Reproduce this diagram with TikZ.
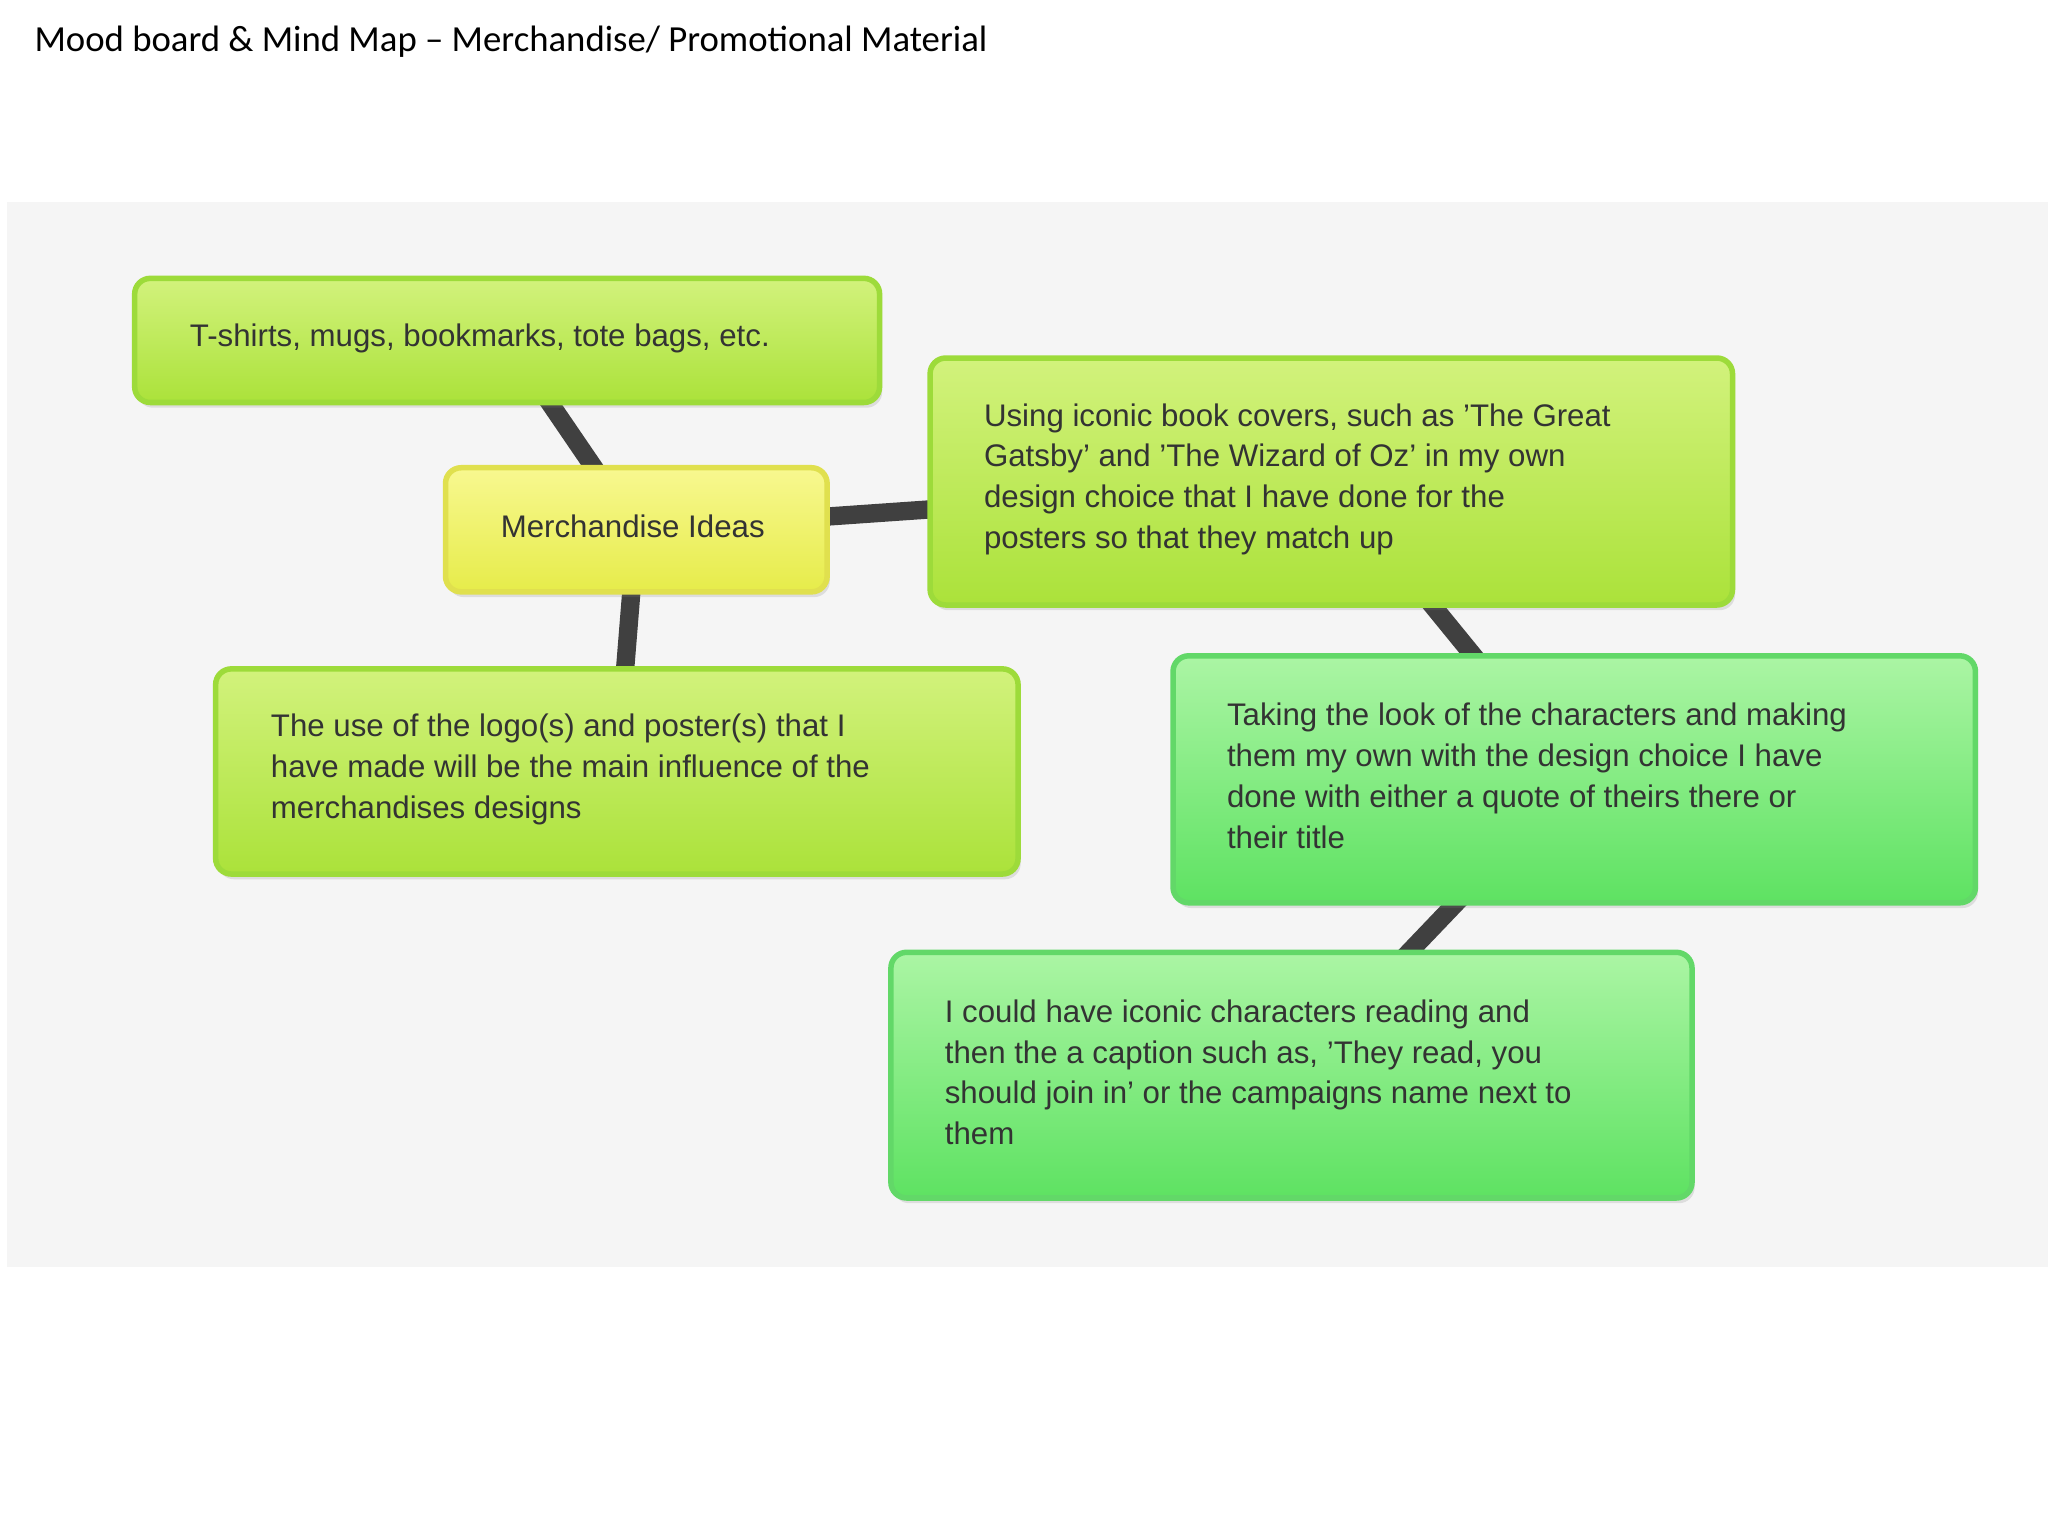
\documentclass[tikz,border=0pt]{standalone}
\usepackage{fontspec}
\setmainfont{Liberation Sans}
\newfontfamily\titlefont{Carlito}
\usetikzlibrary{shadows,backgrounds}
\definecolor{limetop}{HTML}{D2F27C}
\definecolor{limebot}{HTML}{ABE23A}
\definecolor{limeedge}{HTML}{9DDB3A}
\definecolor{greentop}{HTML}{ABF5A4}
\definecolor{greenbot}{HTML}{5EE262}
\definecolor{greenedge}{HTML}{62D868}
\definecolor{yeltop}{HTML}{F8F890}
\definecolor{yelbot}{HTML}{E6EC4A}
\definecolor{yeledge}{HTML}{E0E04E}
\begin{document}
\begin{tikzpicture}[x=0.01cm,y=-0.01cm,
  box/.style={draw=#1, line width=1.2pt, rounded corners=0.12cm, inner sep=0pt, anchor=north west,
     drop shadow={opacity=0.2,shadow xshift=0.02cm,shadow yshift=-0.04cm}},
  lime/.style={box=limeedge, top color=limetop, bottom color=limebot},
  gbox/.style={box=greenedge, top color=greentop, bottom color=greenbot},
  ybox/.style={box=yeledge, top color=yeltop, bottom color=yelbot},
  txt/.style={font=\fontsize{6.8}{8.9}\selectfont, text=black!80, align=left, anchor=west},
  link/.style={draw=black!75, line width=4pt}]
\useasboundingbox (0,0) rectangle (1568,1176);
\node[font=\titlefont\fontsize{8}{9}\selectfont, anchor=west] (title) at (14,32) {Mood board \& Mind Map – Merchandise/ Promotional Material};

\node[lime, minimum width=5.70cm, minimum height=0.95cm] (t) at (101,211) {};
\node[txt] at (133,259) {T-shirts, mugs, bookmarks, tote bags, etc.};
\node[ybox, minimum width=2.92cm, minimum height=0.95cm] (m) at (339,356) {};
\node[txt] at (371,403) {Merchandise Ideas};
\node[lime, minimum width=6.14cm, minimum height=1.89cm] (u) at (710,272) {};
\node[txt] at (741,367) {Using iconic book covers, such as 'The Great\\Gatsby' and 'The Wizard of Oz' in my own\\design choice that I have done for the\\posters so that they match up};
\node[lime, minimum width=6.14cm, minimum height=1.57cm] (l) at (163,510) {};
\node[txt] at (195,589) {The use of the logo(s) and poster(s) that I\\have made will be the main influence of the\\merchandises designs};
\node[gbox, minimum width=6.14cm, minimum height=1.89cm] (k) at (896,500) {};
\node[txt] at (927,594) {Taking the look of the characters and making\\them my own with the design choice I have\\done with either a quote of theirs there or\\their title};
\node[gbox, minimum width=6.13cm, minimum height=1.88cm] (c) at (680,727) {};
\node[txt] at (711,821) {I could have iconic characters reading and\\then the a caption such as, 'They read, you\\should join in' or the campaigns name next to\\them};

\begin{scope}[on background layer]
\fill[black!4] (5,155) rectangle (1568,970);
\draw[link] (t.center) -- (m.center);
\draw[link] (m.center) -- (u.center);
\draw[link] (m.center) -- (l.center);
\draw[link] (u.center) -- (k.center);
\draw[link] (k.center) -- (c.center);
\end{scope}
\end{tikzpicture}
\end{document}
